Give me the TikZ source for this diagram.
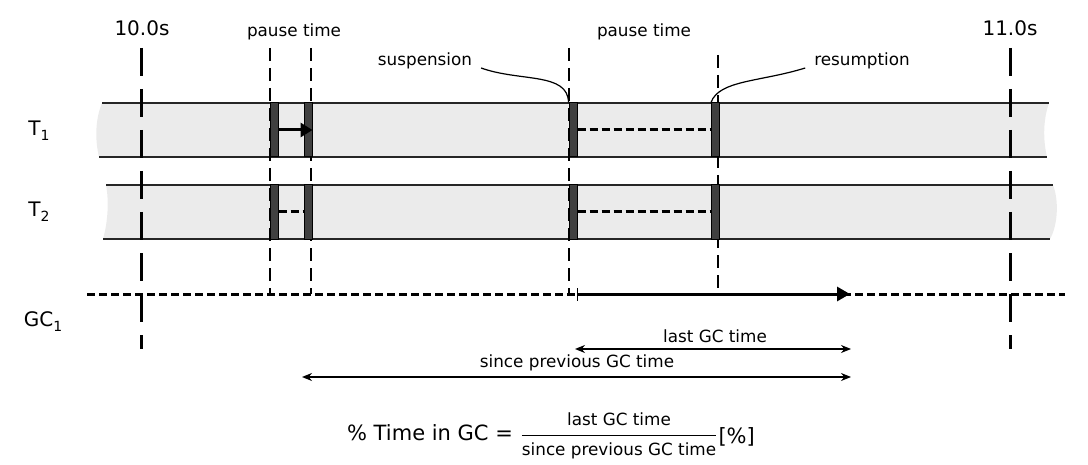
\documentclass[tikz,border=0pt]{standalone}
\usepackage{fontspec}
\setmainfont{DejaVu Sans}
\usetikzlibrary{arrows.meta}
\newcommand{\idx}[1]{\raisebox{-2.5pt}{\fontsize{7}{8}\selectfont #1}}
\newcommand{\smalltext}{\fontsize{8.4}{10}\selectfont}
\begin{document}
\begin{tikzpicture}[
            x=0.5pt, y=-0.5pt,
            bar/.style={fill=black!8},
            edge/.style={draw=black!85, line width=1.1pt},
            gc/.style={draw=black, fill=black!75, line width=0.5pt, minimum width=4pt, minimum height=27pt, inner sep=0pt},
            second/.style={line width=1.5pt, dash pattern=on 14pt off 6.5pt},
            guide/.style={line width=0.6pt, dash pattern=on 6.5pt off 3.5pt},
            wait/.style={line width=1.5pt, dash pattern=on 4pt off 2pt},
            span/.style={line width=0.6pt, {Stealth[length=5pt,width=4pt]}-{Stealth[length=5pt,width=4pt]}},
            small/.style={font=\smalltext},
            big/.style={font=\fontsize{10}{12}\selectfont}
            ]
            \useasboundingbox (0,0) rectangle (1088,465);
            % thread bars
            \fill[bar] (102,103) -- (1049,103) .. controls (1043,120) and (1043,140) .. (1047,157)
                -- (99,157) .. controls (95,140) and (95,120) .. cycle;
            \fill[bar] (106,185) -- (1053,185) .. controls (1059,200) and (1058,225) .. (1050,239)
                -- (103,239) .. controls (108,222) and (109,200) .. cycle;
            \draw[edge] (102,103) -- (1049,103);
            \draw[edge] (99,157) -- (1047,157);
            \draw[edge] (106,185) -- (1053,185);
            \draw[edge] (103,239) -- (1050,239);
            % guides
            \foreach \x/\y in {270/48, 311/48, 569/48, 718/55}
                \draw[guide] (\x,\y) -- (\x,294);
            \draw[second] (141,48) -- (141,349);
            \draw[second] (1010,48) -- (1010,349);
            % pauses
            \foreach \n/\x in {a/274, b/308, c/573, d/715.5} {
                \node[gc] (p1\n) at (\x,130) {};
                \node[gc] (p2\n) at (\x,212) {};
            }
            \draw[line width=1.5pt, -{Triangle[length=6pt,width=7pt]}] (p1a.east) -- (p1b.east);
            \draw[wait] (p1c.east) -- (p1d.west);
            \draw[wait] (p2a.east) -- (p2b.west);
            \draw[wait] (p2c.east) -- (p2d.west);
            % GC line
            \coordinate (gcstart) at (87,294);
            \coordinate (gcend) at (1065,294);
            \coordinate (gcbegin) at (577,294);
            \coordinate (gcstop) at (850,294);
            \draw[wait] (gcstart) -- (gcend);
            \draw[line width=1.5pt, {Bar[width=6.5pt,line width=0.7pt]}-{Triangle[length=6.5pt,width=7pt]}] (gcbegin) -- (gcstop);
            % labels
            \node[big] (tone) at (39,131) {T\idx{1}};
            \node[big] (ttwo) at (39,212) {T\idx{2}};
            \node[big] (gcone) at (43,322) {GC\idx{1}};
            \node[big] (start) at (142,28) {10.0s};
            \node[big] (stop) at (1010,28) {11.0s};
            \node[small] (pauseone) at (294,32) {pause time};
            \node[small] (pausetwo) at (644,32) {pause time};
            \node[small] (susp) at (425,61) {suspension};
            \node[small] (resume) at (862,61) {resumption};
            \draw[line width=0.6pt] ([shift={(2,7)}]susp.east) .. controls (520,82) and (568,72) .. (p1c.north west);
            \draw[line width=0.6pt] (p1d.north west) .. controls (719,80) and (760,82) .. ([shift={(-2,7)}]resume.west);
            % time spans
            \coordinate (lastfrom) at (575,349);
            \coordinate (lastto) at (851,349);
            \coordinate (sincefrom) at (302,377);
            \coordinate (sinceto) at (851,377);
            \draw[span] (lastfrom) -- (lastto);
            \draw[span] (sincefrom) -- (sinceto);
            \node[small] (lastgc) at (715,336) {last GC time};
            \node[small] (sincegc) at (577,363) {since previous GC time};
            \node[font=\fontsize{10.5}{12}\selectfont] (share) at (551,436) {\% Time in GC = $\displaystyle\frac{\mbox{\smalltext last GC time}}{\mbox{\smalltext since previous GC time}}$\raisebox{-1.5pt}{[\%]}};
\end{tikzpicture}
\end{document}
